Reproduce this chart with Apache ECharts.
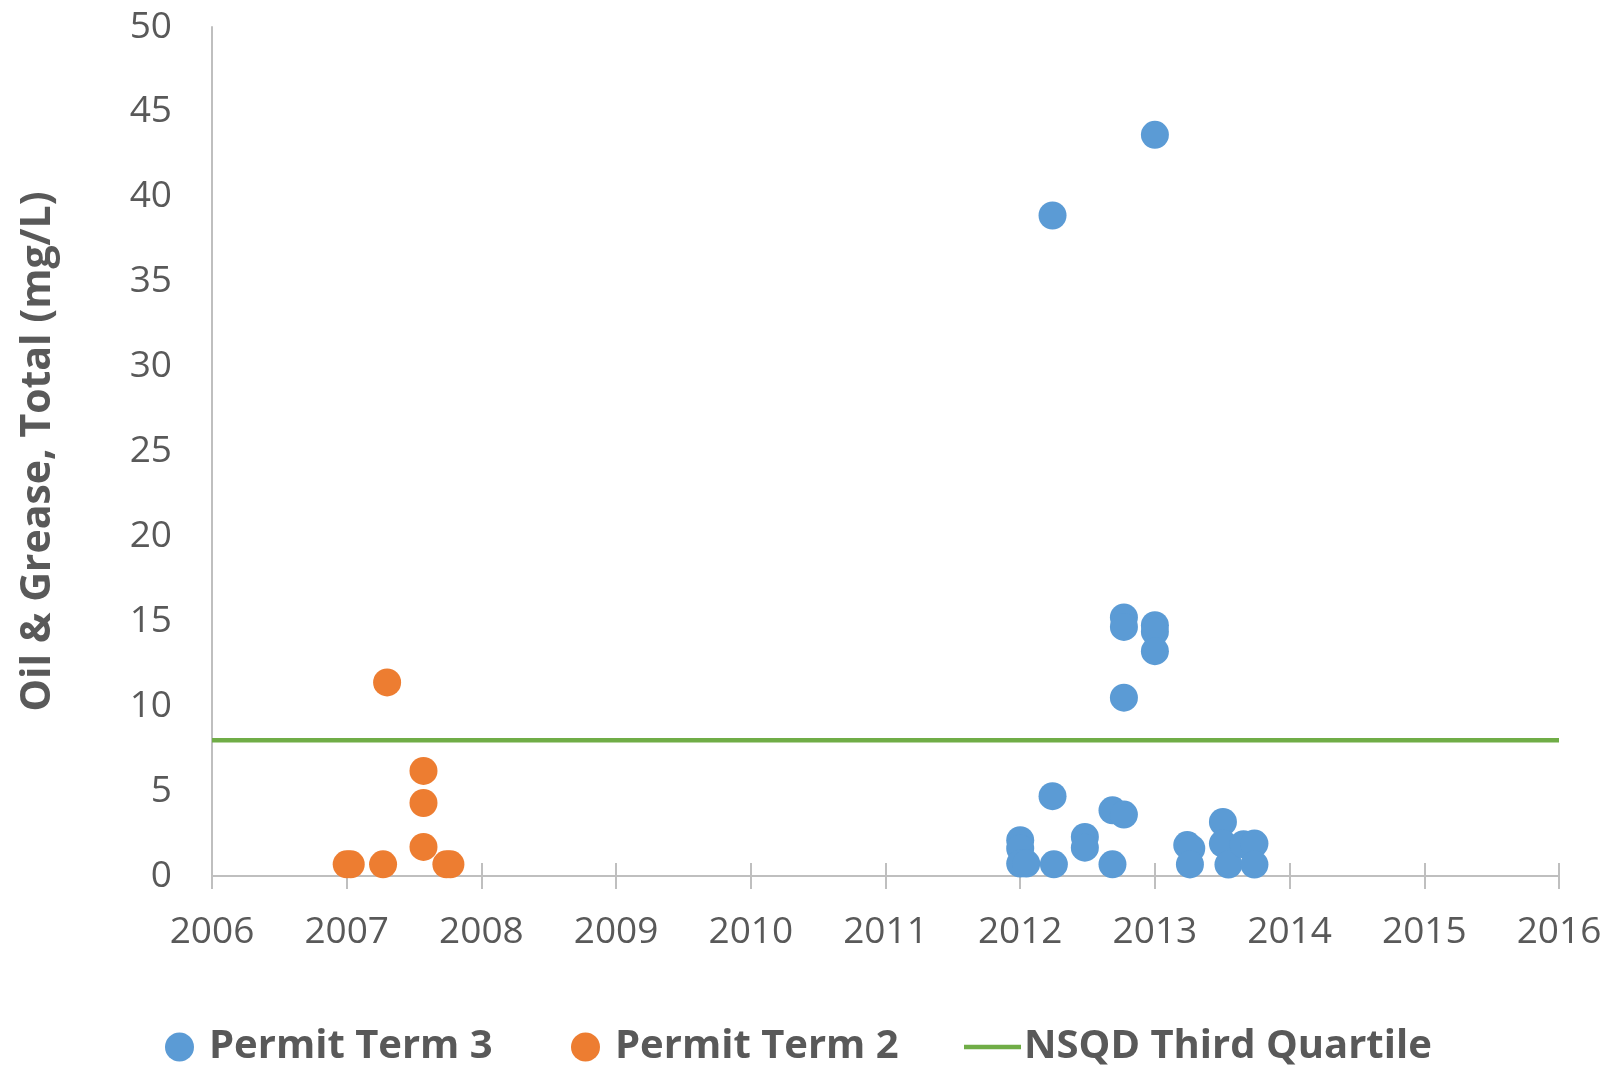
<!DOCTYPE html>
<html>
<head>
<meta charset="utf-8">
<script src="https://cdn.jsdelivr.net/npm/echarts@6/dist/echarts.min.js"></script>
<style>
  html, body { margin: 0; padding: 0; background: #fff; }
  #chart { width: 1608px; height: 1069px; }
</style>
</head>
<body>
<div id="chart"></div>
<script>
// sample dates as decimal years, values in mg/L
var term3Dates = [2012.00, 2012.00, 2012.00, 2012.045, 2012.24, 2012.24, 2012.25, 2012.48, 2012.48,
                  2012.685, 2012.77, 2012.685, 2012.77, 2012.77, 2012.77, 2013.00, 2013.00, 2013.00,
                  2013.00, 2013.24, 2013.27, 2013.26, 2013.505, 2013.505, 2013.546, 2013.658,
                  2013.739, 2013.739];
var term3Values = [2.11, 1.62, 0.73, 0.73, 38.9, 4.70, 0.69, 2.30, 1.67,
                   3.87, 3.62, 0.69, 15.23, 14.67, 10.5, 43.65, 14.77, 14.38,
                   13.24, 1.82, 1.62, 0.68, 3.18, 1.91, 0.67, 1.87,
                   1.91, 0.67];

var term2Dates = [2007.30, 2007.57, 2007.57, 2007.57, 2007.00, 2007.03, 2007.27, 2007.74, 2007.77];
var term2Values = [11.4, 6.19, 4.30, 1.71, 0.69, 0.69, 0.69, 0.69, 0.69];

var nsqdDates = [2006, 2016];
var nsqdValues = [8, 8];

var seriesNames = ['Permit Term 3', 'Permit Term 2', 'NSQD Third Quartile'];

function pairs(xs, ys) {
    var out = [];
    for (var i = 0; i < xs.length; i++) out.push([xs[i], ys[i]]);
    return out;
}

var chart = echarts.init(document.getElementById('chart'));
var grey = '#595959';
var axisGrey = '#BFBFBF';
var font = '"Open Sans", sans-serif';

var legendText = { color: grey, fontSize: 40, fontWeight: 'bold', fontFamily: font };

var option = {
    backgroundColor: '#ffffff',
    animation: false,
    grid: { left: 212, right: 49, top: 27, bottom: 193 },
    legend: [
        { data: [seriesNames[0]], left: 160, top: 1022, icon: 'circle', itemWidth: 29, itemHeight: 29,
          textStyle: Object.assign({ padding: [0, 0, 0, 10] }, legendText) },
        { data: [seriesNames[1]], left: 566, top: 1022, icon: 'circle', itemWidth: 29, itemHeight: 29,
          textStyle: Object.assign({ padding: [0, 0, 0, 10] }, legendText) },
        { data: [{ name: seriesNames[2], icon: 'rect' }], left: 959, top: 1022, itemWidth: 57, itemHeight: 4.5,
          textStyle: Object.assign({ padding: [0, 0, 0, -2] }, legendText) }
    ],
    xAxis: [{
        type: 'value',
        min: 2006, max: 2016, interval: 1,
        position: 'bottom',
        splitLine: { show: false },
        axisLine: { onZero: false, lineStyle: { color: axisGrey, width: 2 } },
        axisTick: { show: true, length: 13, lineStyle: { color: axisGrey, width: 2 } },
        axisLabel: { color: grey, fontSize: 37, fontFamily: font, margin: 38,
                     formatter: function (v) { return String(v); } }
    }, {
        // second copy gives the ticks that stick up above the axis line
        type: 'value',
        min: 2006, max: 2016, interval: 1,
        position: 'bottom',
        splitLine: { show: false },
        axisLine: { show: false },
        axisTick: { show: true, inside: true, length: 13, lineStyle: { color: axisGrey, width: 2 } },
        axisLabel: { show: false }
    }],
    yAxis: {
        type: 'value',
        min: 0, max: 50, interval: 5,
        name: 'Oil & Grease, Total (mg/L)',
        nameLocation: 'middle',
        nameRotate: 90,
        nameGap: 153,
        nameTextStyle: { color: grey, fontSize: 41, fontWeight: 'bold', fontFamily: font },
        splitLine: { show: false },
        axisTick: { show: false },
        axisLine: { show: true, lineStyle: { color: axisGrey, width: 2 } },
        axisLabel: { color: grey, fontSize: 37, fontFamily: font, margin: 40 }
    },
    series: [{
        name: seriesNames[0],
        type: 'scatter',
        symbolSize: 28,
        itemStyle: { color: '#5B9BD5', opacity: 1 },
        data: pairs(term3Dates, term3Values)
    }, {
        name: seriesNames[1],
        type: 'scatter',
        symbolSize: 28,
        itemStyle: { color: '#ED7D31', opacity: 1 },
        data: pairs(term2Dates, term2Values)
    }, {
        name: seriesNames[2],
        type: 'line',
        symbol: 'none',
        lineStyle: { color: '#70AD47', width: 4.5 },
        itemStyle: { color: '#70AD47' },
        data: pairs(nsqdDates, nsqdValues)
    }]
};

chart.setOption(option);
</script>
</body>
</html>
